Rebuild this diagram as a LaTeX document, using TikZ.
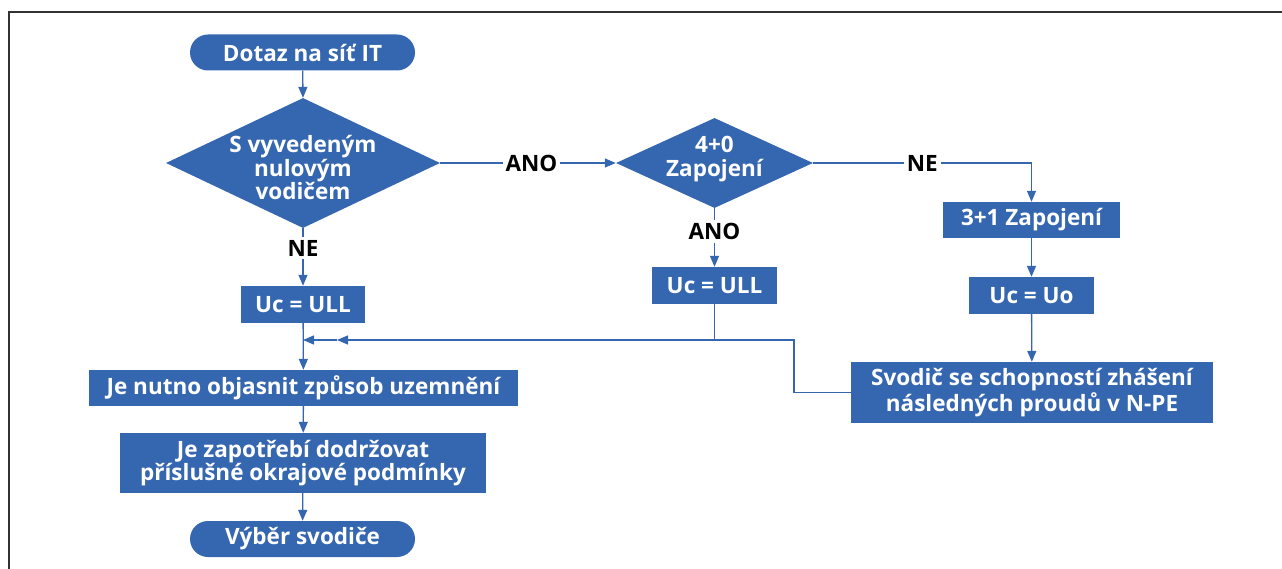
\documentclass[tikz,border=0pt]{standalone}
\usepackage{fontspec}
\setmainfont{Open Sans}
\usetikzlibrary{shapes.geometric,arrows.meta}
\definecolor{fblue}{RGB}{53,102,176}
\definecolor{frame}{RGB}{50,50,50}
\newcommand{\flowfont}{\bfseries\fontsize{22.5}{23.5}\selectfont}
\tikzset{
  boxstyle/.style={rectangle,fill=fblue,text=white,font=\flowfont,inner sep=0pt,align=center},
  termstyle/.style={boxstyle,rounded corners=18pt,minimum width=225pt,minimum height=36pt},
  diastyle/.style={diamond,fill=fblue,inner sep=0pt},
  dtext/.style={text=white,font=\flowfont,align=center,inner sep=0pt},
  lbl/.style={fill=white,text=black,font=\flowfont,inner sep=3pt},
  conn/.style={draw=fblue,line width=1.3pt},
  arr/.style={conn,-{Triangle[length=11pt,width=9pt]}},
}
\begin{document}
\begin{tikzpicture}[x=1pt,y=-1pt]
\useasboundingbox (0,0) rectangle (1282,569);
\draw[frame,line width=1.6pt] (9,569) -- (9,12) -- (1282,12);

\node[termstyle] (start) at (302.5,52.5) {Dotaz na síť IT};
\node[diastyle,minimum width=274pt,minimum height=130pt] (d1) at (303,163) {};
\node[dtext] at (303,167.5) {S vyvedeným\\nulovým\\vodičem};
\node[diastyle,minimum width=197pt,minimum height=90pt] (d2) at (714.5,163) {};
\node[dtext] at (714.5,159) {4+0\\Zapojení};

\node[boxstyle,minimum width=124pt,minimum height=37pt] (u1) at (303,304.5) {Uc = ULL};
\node[boxstyle,minimum width=125pt,minimum height=37pt] (u2) at (714.5,285.5) {Uc = ULL};
\node[boxstyle,minimum width=177pt,minimum height=36pt] (z31) at (1031.5,220) {3+1 Zapojení};
\node[boxstyle,minimum width=125pt,minimum height=37pt] (uo) at (1031.5,295.5) {Uc = Uo};
\node[boxstyle,minimum width=362pt,minimum height=61pt] (sv) at (1032,392.5) {Svodič se schopností zhášení\\následných proudů v N-PE};
\node[boxstyle,minimum width=429pt,minimum height=36pt] (je1) at (303.5,388) {Je nutno objasnit způsob uzemnění};
\node[boxstyle,minimum width=366pt,minimum height=60pt] (je2) at (303,463) {Je zapotřebí dodržovat\\příslušné okrajové podmínky};
\node[termstyle] (end) at (302.5,539) {Výběr svodiče};

\coordinate (merge) at (303,340);
\coordinate (mid) at (337,340);
\coordinate (bend) at (794,340);

\draw[arr] (start) -- (d1.north);
\draw[arr] (d1.east) -- node[lbl,pos=0.52]{ANO} (d2.west);
\draw[arr] (d1.south) -- node[lbl,pos=0.35]{NE} (u1.north);
\draw[arr] (d2.south) -- node[lbl,pos=0.4]{ANO} (u2.north);
\draw[arr] (d2.east) -- node[lbl,pos=0.5]{NE} (d2.east -| z31) -- (z31.north);
\draw[arr] (z31) -- (uo);
\draw[arr] (uo) -- (sv);
\draw[conn] (sv.west) -| (bend) -- (u2.south |- bend);
\draw[arr] (u2.south) |- (mid);
\draw[arr] (mid) -- (merge);
\draw[arr] (u1) -- (je1);
\draw[arr] (je1) -- (je2);
\draw[arr] (je2) -- (end);
\end{tikzpicture}
\end{document}
